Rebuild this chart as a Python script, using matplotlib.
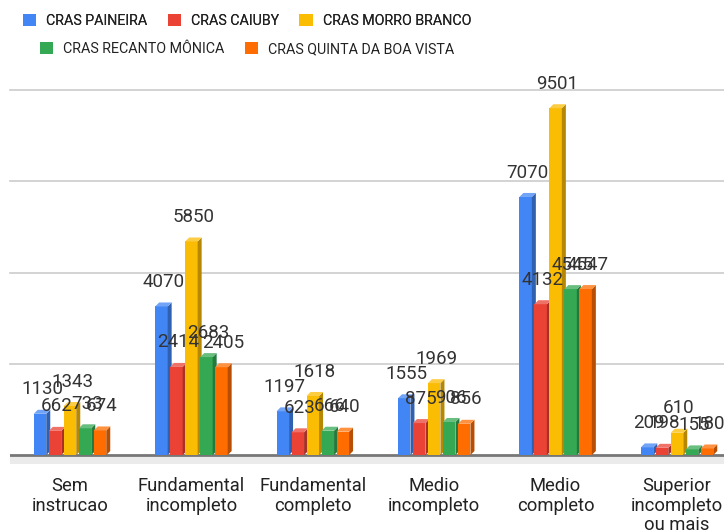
import matplotlib
matplotlib.use("Agg")
import matplotlib.pyplot as plt
from matplotlib.patches import Polygon, Rectangle
import matplotlib.colors as mcolors
import numpy as np

plt.rcParams['font.family'] = ['Roboto', 'DejaVu Sans']

categories = ["Sem\ninstrucao", "Fundamental\nincompleto", "Fundamental\ncompleto",
              "Medio\nincompleto", "Medio\ncompleto", "Superior\nincompleto\nou mais"]
series_names = ["CRAS PAINEIRA", "CRAS CAIUBY", "CRAS MORRO BRANCO",
                "CRAS RECANTO MÔNICA", "CRAS QUINTA DA BOA VISTA"]
paineira = [1130, 4070, 1197, 1555, 7070, 209]
caiuby = [662, 2414, 623, 875, 4132, 198]
morro_branco = [1343, 5850, 1618, 1969, 9501, 610]
recanto_monica = [733, 2683, 666, 906, 4545, 155]
quinta_boa_vista = [674, 2405, 640, 856, 4547, 180]
series_values = [paineira, caiuby, morro_branco, recanto_monica, quinta_boa_vista]
colors = ["#4285F4", "#EA4335", "#FBBC04", "#34A853", "#FF6D01"]

W, H = 724, 530
fig = plt.figure(figsize=(W / 100, H / 100), dpi=100)
ax = fig.add_axes([10 / W, 64 / H, 1 - 10 / W, (466 - 90) / H])

unit_px = 121.4
ax.set_xlim(-60 / unit_px, -60 / unit_px + 714 / unit_px)
ax.set_ylim(-300, 10000)

step = 15 / unit_px
bw = 12.5 / unit_px
ddx = 4 / unit_px
ddy = 4 * 10000 / 365

def shade(c, f):
    r, g, b = mcolors.to_rgb(c)
    return (r * f, g * f, b * f)

def lighten(c, f):
    r, g, b = mcolors.to_rgb(c)
    return (r + (1 - r) * f, g + (1 - g) * f, b + (1 - b) * f)

# grid
for yv in [2500, 5000, 7500, 10000]:
    ax.axhline(yv, color="#cccccc", lw=1.2, zorder=0, clip_on=False)
# floor
ax.axhspan(-250, 0, color="#ebebeb", lw=0, zorder=0)
ax.axhline(0, color="#777777", lw=2, zorder=1)

x = np.arange(len(categories))
for si, vals in enumerate(series_values):
    c = colors[si]
    xs = x + (si - 2) * step
    ax.bar(xs, vals, width=bw, color=c, zorder=3 + si, linewidth=0)
    for xc, v in zip(xs, vals):
        x0, x1 = xc - bw / 2, xc + bw / 2
        side = Polygon([(x1, 0), (x1 + ddx, ddy), (x1 + ddx, v + ddy), (x1, v)],
                       closed=True, facecolor=shade(c, 0.72), lw=0, zorder=3 + si)
        top = Polygon([(x0, v), (x0 + ddx, v + ddy), (x1 + ddx, v + ddy), (x1, v)],
                      closed=True, facecolor=lighten(c, 0.25), lw=0, zorder=3 + si)
        ax.add_patch(side)
        ax.add_patch(top)
        ax.annotate(str(v), xy=(xc + ddx / 2, v), xytext=(0, 14),
                    textcoords="offset points", ha="center", va="baseline",
                    fontsize=13.5, color="#333333", zorder=10, clip_on=False)

ax.set_xticks(x)
ax.set_xticklabels(categories, fontsize=13.2, color="#222222", linespacing=1.1)
ax.tick_params(axis="x", length=0, pad=8)
ax.set_yticks([])
for s in ax.spines.values():
    s.set_visible(False)

# legend
handles = [Rectangle((0, 0), 1, 1, facecolor=c, edgecolor="none") for c in colors]
leg_kw = dict(loc="center", frameon=False, fontsize=10.3, handlelength=0.95,
              handleheight=0.95, handletextpad=0.7, columnspacing=1.4,
              borderpad=0, borderaxespad=0)
leg1 = fig.legend(handles[:3], series_names[:3], ncol=3,
                  bbox_to_anchor=(247 / W, 1 - 21 / H), **leg_kw)
for t in leg1.get_texts():
    t.set_color("#222222")
leg2 = fig.legend(handles[3:], series_names[3:], ncol=2,
                  bbox_to_anchor=(247 / W, 1 - 49 / H), **leg_kw)
for t in leg2.get_texts():
    t.set_color("#222222")
fig.add_artist(leg1)

fig.savefig("out.png", dpi=100)
